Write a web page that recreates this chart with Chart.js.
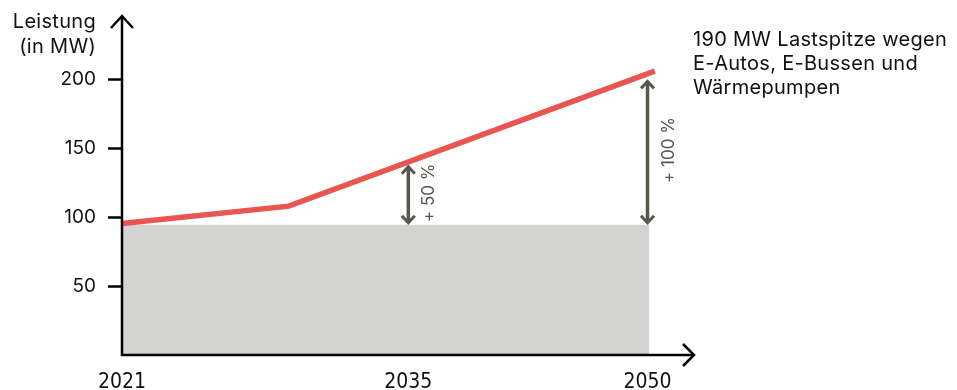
<!DOCTYPE html>
<html><head><meta charset="utf-8">
<script src="https://cdn.jsdelivr.net/npm/chart.js@4/dist/chart.umd.min.js"></script>
<style>html,body{margin:0;padding:0;background:#fff}canvas{display:block}</style>
</head><body>
<canvas id="c" width="957" height="390"></canvas>
<script>
// ---- data ----
const lineYears = [2021, 2030.2, 2050.4];
const lineValues = [95.5, 108, 206];
const baseYears = [2021, 2050.1];
const baseValues = [94.5, 94.5];
const xTickPos = [2021, 2036.8, 2050];
const xTickLabels = ['2021', '2035', '2050'];
const yTickVals = [50, 100, 150, 200];
const arrowYears = [2036.8, 2050];
const arrowFrom = [94.5, 94.5];
const arrowTo = [138, 200];
const arrowLabels = ['+ 50 %', '+ 100 %'];
const yTitle = ['Leistung', '(in MW)'];
const noteLines = ['190 MW Lastspitze wegen', 'E-Autos, E-Bussen und', 'Wärmepumpen'];

const FONT = 'Inter, "Liberation Sans", sans-serif';
const RED = '#e8564f', GREY = '#d3d3d1', DARK = '#57564f';

const overlay = {
  id: 'overlay',
  afterDatasetsDraw(chart) {
    const ctx = chart.ctx, xs = chart.scales.x, ys = chart.scales.y;
    const x0 = xs.getPixelForValue(2021), y0 = ys.getPixelForValue(0);
    ctx.save();
    ctx.strokeStyle = DARK; ctx.fillStyle = DARK;
    arrowYears.forEach((yr, i) => {
      const ax = xs.getPixelForValue(yr);
      const yb = ys.getPixelForValue(arrowFrom[i]), yt = ys.getPixelForValue(arrowTo[i]);
      ctx.lineWidth = 3.5;
      ctx.beginPath(); ctx.moveTo(ax, yt + 3); ctx.lineTo(ax, yb - 3); ctx.stroke();
      ctx.lineWidth = 3;
      ctx.beginPath(); ctx.moveTo(ax - 6.5, yt + 9); ctx.lineTo(ax, yt + 2); ctx.lineTo(ax + 6.5, yt + 9); ctx.stroke();
      ctx.beginPath(); ctx.moveTo(ax - 6.5, yb - 9); ctx.lineTo(ax, yb - 2); ctx.lineTo(ax + 6.5, yb - 9); ctx.stroke();
      ctx.save();
      ctx.translate(ax + 21, (yt + yb) / 2 - 2);
      ctx.rotate(-Math.PI / 2);
      ctx.font = '17px ' + FONT; ctx.textAlign = 'center'; ctx.textBaseline = 'middle';
      ctx.fillText(arrowLabels[i], 0, 0);
      ctx.restore();
    });
    ctx.restore();
    ctx.save();
    ctx.strokeStyle = '#000'; ctx.lineWidth = 2.5; ctx.lineCap = 'butt';
    const yTop = chart.chartArea.top, xEnd = 694;
    ctx.beginPath(); ctx.moveTo(x0, y0 + 1); ctx.lineTo(x0, yTop); ctx.stroke();
    ctx.beginPath(); ctx.moveTo(x0 - 11, yTop + 12); ctx.lineTo(x0, yTop); ctx.lineTo(x0 + 11, yTop + 12); ctx.stroke();
    ctx.beginPath(); ctx.moveTo(x0 - 1, y0); ctx.lineTo(xEnd, y0); ctx.stroke();
    ctx.beginPath(); ctx.moveTo(xEnd - 11, y0 - 11); ctx.lineTo(xEnd, y0); ctx.lineTo(xEnd - 11, y0 + 11); ctx.stroke();
    ctx.fillStyle = '#111'; ctx.font = '20px ' + FONT; ctx.textBaseline = 'alphabetic';
    ctx.letterSpacing = '0.3px';
    ctx.textAlign = 'right';
    ctx.fillText(yTitle[0], 96, 28); ctx.fillText(yTitle[1], 96, 53);
    ctx.textAlign = 'left';
    noteLines.forEach((t, i) => ctx.fillText(t, 693, 46 + i * 24));
    ctx.restore();
  }
};

new Chart(document.getElementById('c'), {
  type: 'line',
  data: {
    datasets: [
      { data: baseYears.map((x, i) => ({ x, y: baseValues[i] })), fill: 'origin', backgroundColor: GREY,
        borderWidth: 0, borderColor: 'rgba(0,0,0,0)', pointRadius: 0, order: 2 },
      { data: lineYears.map((x, i) => ({ x, y: lineValues[i] })), fill: false, borderColor: RED,
        borderWidth: 5.5, pointRadius: 0, tension: 0, order: 1, clip: false }
    ]
  },
  options: {
    responsive: false, animation: false,
    layout: { padding: { top: 16, left: 0, right: 237, bottom: 0 } },
    plugins: { legend: { display: false }, tooltip: { enabled: false } },
    scales: {
      x: {
        type: 'linear', min: 2021, max: 2054,
        afterFit: s => { s.height = 35; s.paddingLeft = 0; s.paddingRight = 0; },
        afterBuildTicks: s => { s.ticks = xTickPos.map(v => ({ value: v })); },
        ticks: { autoSkip: false, maxRotation: 0, padding: 15, color: '#111',
          font: { family: '"Liberation Sans Narrow", "DejaVu Sans Condensed", sans-serif', size: 21 },
          callback: (v, i) => xTickLabels[i] },
        grid: { display: false, drawTicks: false }, border: { display: false }
      },
      y: {
        min: 0, max: 246,
        afterFit: s => { s.width = 122; s.paddingTop = 0; s.paddingBottom = 0; },
        afterBuildTicks: s => { s.ticks = yTickVals.map(v => ({ value: v })); },
        ticks: { padding: 12, color: '#111', font: { family: FONT, size: 19 } },
        grid: { drawOnChartArea: false, tickLength: 14, tickColor: '#000', tickWidth: 2.5 },
        border: { display: false }
      }
    }
  },
  plugins: [overlay]
});
</script>
</body></html>
